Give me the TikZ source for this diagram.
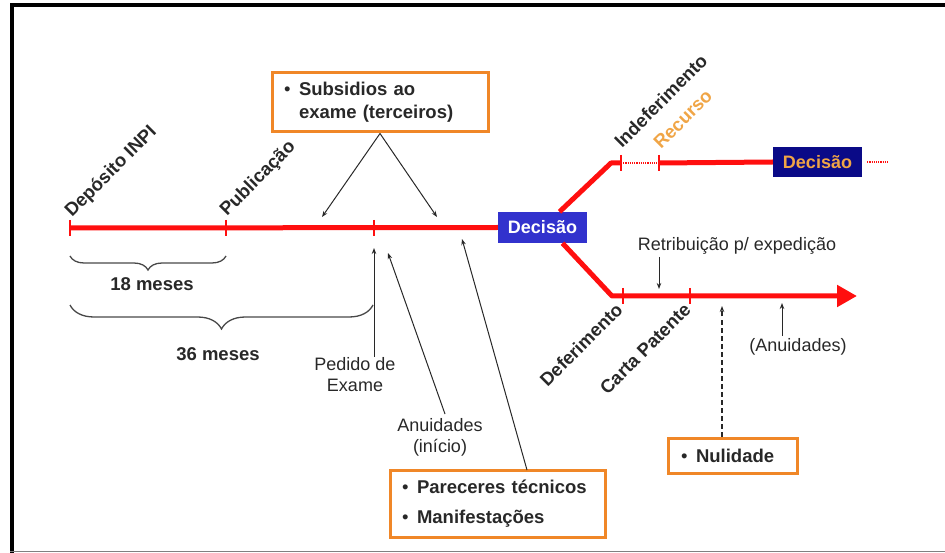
\documentclass[tikz,border=0pt]{standalone}
\usepackage{fontspec}
\setmainfont{Liberation Sans}
\usetikzlibrary{arrows.meta,decorations.pathreplacing,calc}
\definecolor{tlred}{RGB}{255,15,15}
\definecolor{boxorange}{RGB}{240,135,40}
\definecolor{decblue}{RGB}{50,50,205}
\definecolor{decnavy}{RGB}{10,10,135}
\definecolor{recorange}{RGB}{240,165,70}
\definecolor{txtgray}{RGB}{40,40,40}
\begin{document}
\begin{tikzpicture}[x=1pt,y=-1pt,
  timeline/.style={draw=tlred,line width=5pt},
  tickmark/.style={draw=tlred,line width=2pt},
  thinarrow/.style={draw=txtgray,line width=1pt,-{Stealth[length=6pt,width=4.5pt]}},
  dasharrow/.style={draw=txtgray,line width=1.4pt,dash pattern=on 5pt off 3pt,-{Stealth[length=6pt,width=4.5pt]}},
  bracestyle/.style={draw=txtgray!85,line width=1.3pt,decorate,decoration={brace,mirror,amplitude=#1}},
  rotlabel/.style={rotate=45,inner sep=0pt,font=\bfseries\fontsize{18.5}{20}\selectfont,text=txtgray},
  plainlabel/.style={inner sep=1pt,font=\fontsize{18}{21}\selectfont,text=txtgray,align=center},
  boldlabel/.style={inner sep=1pt,font=\bfseries\fontsize{18.5}{21}\selectfont,text=txtgray},
  infobox/.style={draw=boxorange,line width=3pt,fill=white,align=left,
    font=\bfseries\fontsize{18.5}{23}\selectfont,text=txtgray,inner xsep=12pt,inner ysep=4pt},
  decbox/.style={fill=decblue,text=white,font=\bfseries\fontsize{18}{20}\selectfont,
    minimum width=89pt,minimum height=31pt,inner sep=0pt},
  navybox/.style={fill=decnavy,text=recorange,font=\bfseries\fontsize{18}{20}\selectfont,
    minimum width=89pt,minimum height=30pt,inner sep=0pt}
]
\useasboundingbox (0,0) rectangle (945,553);
% frame
\draw[black,line width=4pt] (10,5.5) -- (945,5.5);
\draw[black,line width=4pt] (12,4) -- (12,553);
\draw[gray,line width=1.5pt] (10,551.5) -- (945,551.5);

% main timeline points
\coordinate (dep) at (70,228);
\coordinate (pub) at (226,228);
\coordinate (ped) at (374,228);
\node[decbox] (dec1) at (542.5,227.5) {Decisão};
\draw[timeline] (dep) -- (dec1.west);
\foreach \p in {dep,pub,ped}{\draw[tickmark] ($(\p)+(0,-8)$) -- ($(\p)+(0,8)$);}

% upper branch
\coordinate (ubend) at (611,163);
\coordinate (indef) at (621,163);
\coordinate (rec) at (659,163);
\node[navybox] (dec2) at (817.5,162) {Decisão};
\coordinate (dotend) at (888,162);
\draw[timeline,line join=round] ([xshift=17pt]dec1.north) -- (ubend) -- (indef);
\draw[tlred,line width=1.2pt,densely dotted] (indef) -- (rec);
\draw[timeline] (rec) -- (dec2.west);
\draw[tlred,line width=1.2pt,densely dotted] ([xshift=5pt]dec2.east) -- (dotend);
\foreach \p in {indef,rec}{\draw[tickmark] ($(\p)+(0,-8)$) -- ($(\p)+(0,8)$);}

% lower branch
\coordinate (lbend) at (612,296);
\coordinate (defer) at (623,296);
\coordinate (carta) at (690,296);
\coordinate (tipend) at (857,296);
\draw[timeline,line join=round,-{Triangle[length=20pt,width=21pt]}] ([xshift=20pt]dec1.south) -- (lbend) -- (tipend);
\foreach \p in {defer,carta}{\draw[tickmark] ($(\p)+(0,-8)$) -- ($(\p)+(0,8)$);}

% rotated labels
\node[rotlabel,anchor=base west] (ldep) at (72,218) {Depósito INPI};
\node[rotlabel,anchor=base west] (lpub) at (227,217) {Publicação};
\node[rotlabel,anchor=base west] (lind) at (622,149) {Indeferimento};
\node[rotlabel,anchor=base west,text=recorange] (lrec) at (661,150) {Recurso};
\node[rotlabel,anchor=base east] (ldef) at (624,311) {Deferimento};
\node[rotlabel,anchor=base east] (lcar) at (692,311) {Carta Patente};

% braces
\draw[bracestyle=14pt] (70,256) -- (226,256);
\draw[bracestyle=24pt] (70,305) -- (373,305);
\node[boldlabel] (m18) at (152,284) {18 meses};
\node[boldlabel] (m36) at (218,354) {36 meses};

% subsidios box
\node[infobox,text width=192pt,minimum height=59pt] (subs) at (380,102.5)
  {\makebox[15pt][l]{\mdseries\textbullet}Subsidios ao\\\makebox[15pt][l]{}exame (terceiros)};
\coordinate (s1) at (322,217);
\coordinate (s2) at (437,217);
\draw[thinarrow] (subs.south) -- (s1);
\draw[thinarrow] (subs.south) -- (s2);

% pedido de exame
\node[plainlabel] (pedtxt) at (355,375) {Pedido de\\Exame};
\coordinate (pedtop) at (374,248);
\draw[thinarrow] (ped |- pedtxt.north) -- (pedtop);

% anuidades inicio
\node[plainlabel] (anui) at (440,437) {Anuidades\\(início)};
\coordinate (anuifrom) at (445,414);
\coordinate (anuito) at (388,253);
\draw[thinarrow] (anuifrom) -- (anuito);

% pareceres box
\node[infobox,text width=191pt,minimum height=67pt,font=\bfseries\fontsize{18.5}{30}\selectfont] (par) at (497.5,503.5)
  {\makebox[15pt][l]{\mdseries\textbullet}Pareceres técnicos\\\makebox[15pt][l]{\mdseries\textbullet}Manifestações};
\coordinate (parfrom) at (527,470);
\coordinate (parto) at (462,239);
\draw[thinarrow] (parfrom) -- (parto);

% retribuicao
\node[plainlabel] (retr) at (737,246) {Retribuição p/ expedição};
\coordinate (retfrom) at (659,257);
\coordinate (retto) at (659,289);
\draw[thinarrow] (retfrom) -- (retto);

% anuidades right
\node[plainlabel] (anui2) at (798,347) {(Anuidades)};
\coordinate (an2from) at (782,336);
\coordinate (an2to) at (782,303);
\draw[thinarrow] (an2from) -- (an2to);

% nulidade
\node[infobox,text width=103pt,minimum height=35pt,inner xsep=13pt] (nul) at (732.5,455.5)
  {\makebox[15pt][l]{\mdseries\textbullet}Nulidade};
\coordinate (nulto) at (722,306);
\draw[dasharrow] (nul.north -| nulto) -- (nulto);
\end{tikzpicture}
\end{document}
